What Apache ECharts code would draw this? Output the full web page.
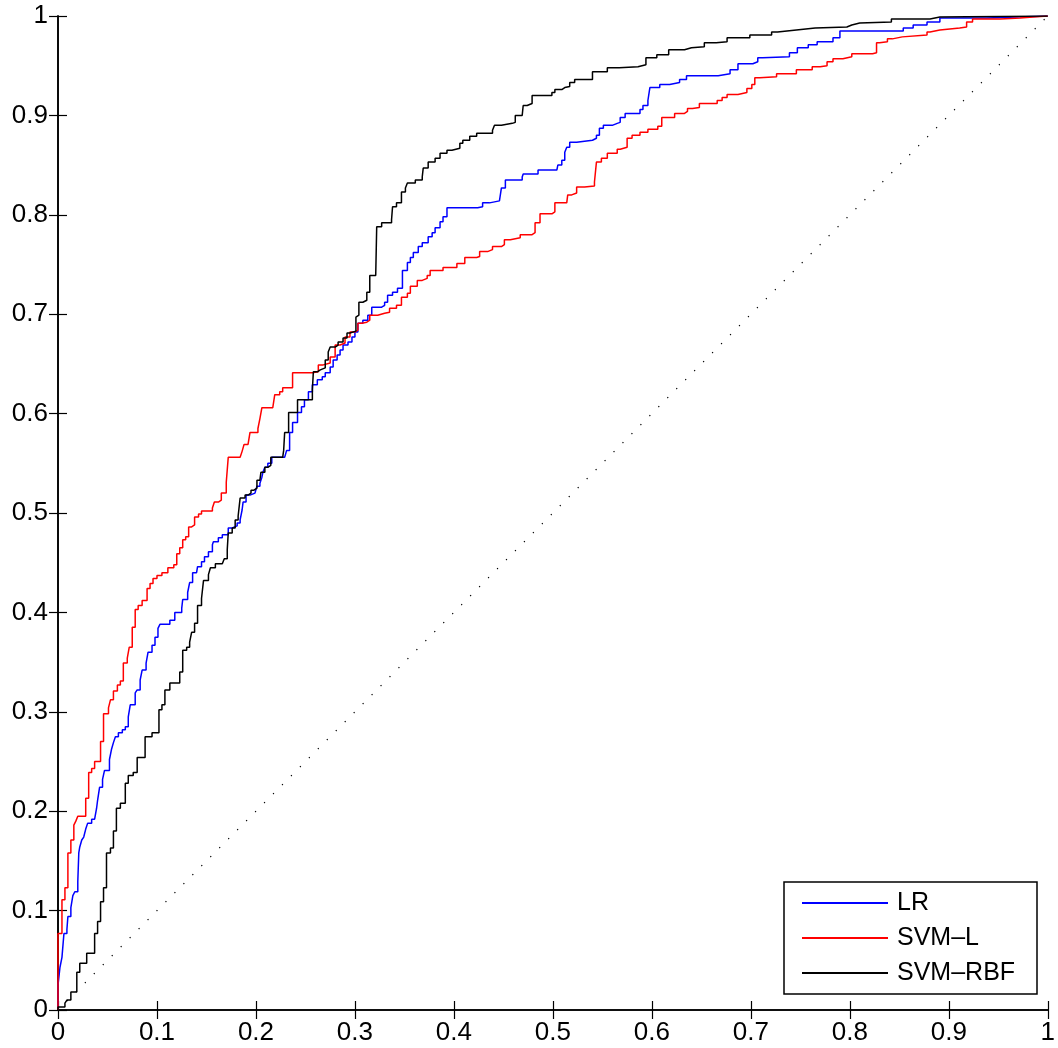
<!DOCTYPE html>
<html>
<head>
<meta charset="utf-8">
<script src="https://cdn.jsdelivr.net/npm/echarts@6/dist/echarts.min.js"></script>
<style>
html,body{margin:0;padding:0;background:#fff;}
#chart{width:1058px;height:1048px;}
</style>
</head>
<body>
<div id="chart"></div>
<script>
// ROC curves: [false positive rate, true positive rate]
const lrPoints = [
[0,0],[0,0.025],[0.002,0.043],[0.004,0.053],[0.006,0.077],[0.009,0.081],[0.010,0.094],[0.013,0.103],
[0.015,0.115],[0.017,0.119],[0.020,0.129],[0.021,0.158],[0.022,0.164],[0.024,0.171],[0.026,0.174],
[0.028,0.182],[0.030,0.188],[0.034,0.192],[0.037,0.194],[0.039,0.203],[0.040,0.211],[0.042,0.224],
[0.045,0.232],[0.047,0.241],[0.052,0.252],[0.054,0.262],[0.056,0.269],[0.058,0.275],[0.061,0.279],
[0.065,0.282],[0.068,0.285],[0.071,0.295],[0.073,0.307],[0.078,0.319],[0.080,0.322],[0.083,0.332],
[0.085,0.342],[0.089,0.349],[0.091,0.360],[0.095,0.367],[0.098,0.375],[0.101,0.384],[0.103,0.388],
[0.113,0.392],[0.118,0.400],[0.125,0.404],[0.126,0.413],[0.131,0.420],[0.133,0.430],[0.136,0.440],
[0.140,0.441],[0.141,0.446],[0.145,0.451],[0.148,0.456],[0.152,0.461],[0.156,0.468],[0.157,0.471],
[0.162,0.475],[0.166,0.478],[0.172,0.485],[0.176,0.487],[0.181,0.490],[0.184,0.493],[0.186,0.503],
[0.187,0.511],[0.190,0.518],[0.194,0.520],[0.199,0.521],[0.201,0.527],[0.204,0.530],[0.206,0.536],
[0.207,0.541],[0.209,0.546],[0.212,0.550],[0.216,0.556],[0.229,0.557],[0.231,0.563],[0.234,0.581],
[0.237,0.591],[0.242,0.601],[0.246,0.607],[0.249,0.614],[0.253,0.622],[0.257,0.629],[0.262,0.634],
[0.267,0.637],[0.270,0.641],[0.275,0.647],[0.278,0.654],[0.282,0.659],[0.285,0.664],[0.288,0.669],
[0.293,0.672],[0.297,0.677],[0.300,0.682],[0.303,0.691],[0.308,0.694],[0.313,0.699],[0.317,0.707],
[0.327,0.709],[0.330,0.712],[0.333,0.719],[0.338,0.722],[0.343,0.726],[0.348,0.744],[0.353,0.752],
[0.356,0.757],[0.359,0.762],[0.364,0.768],[0.368,0.772],[0.374,0.778],[0.378,0.782],[0.381,0.787],
[0.386,0.793],[0.389,0.798],[0.393,0.807],[0.424,0.808],[0.429,0.812],[0.436,0.814],[0.446,0.815],
[0.448,0.827],[0.452,0.835],[0.469,0.838],[0.470,0.841],[0.485,0.845],[0.504,0.846],[0.505,0.850],
[0.509,0.855],[0.512,0.863],[0.514,0.868],[0.517,0.873],[0.524,0.875],[0.540,0.877],[0.544,0.880],
[0.547,0.887],[0.551,0.890],[0.560,0.892],[0.565,0.893],[0.568,0.898],[0.573,0.902],[0.588,0.906],
[0.591,0.910],[0.596,0.915],[0.598,0.928],[0.608,0.931],[0.618,0.933],[0.628,0.936],[0.635,0.940],
[0.667,0.942],[0.679,0.946],[0.687,0.952],[0.702,0.954],[0.707,0.958],[0.712,0.959],[0.739,0.963],
[0.747,0.968],[0.758,0.971],[0.767,0.974],[0.783,0.978],[0.790,0.985],[0.854,0.988],[0.864,0.991],
[0.878,0.994],[0.891,0.998],[0.938,1],[1,1]
];
const svmLPoints = [
[0,0],[0,0.077],[0.004,0.111],[0.007,0.123],[0.010,0.158],[0.013,0.171],[0.016,0.186],[0.018,0.190],
[0.020,0.195],[0.028,0.213],[0.031,0.239],[0.034,0.243],[0.037,0.250],[0.043,0.270],[0.046,0.298],
[0.051,0.304],[0.053,0.312],[0.056,0.321],[0.060,0.327],[0.063,0.331],[0.066,0.349],[0.070,0.354],
[0.072,0.365],[0.075,0.385],[0.078,0.403],[0.081,0.407],[0.085,0.412],[0.090,0.424],[0.093,0.429],
[0.096,0.434],[0.100,0.437],[0.105,0.440],[0.111,0.445],[0.117,0.448],[0.120,0.459],[0.123,0.465],
[0.126,0.473],[0.129,0.476],[0.132,0.486],[0.135,0.488],[0.138,0.496],[0.142,0.499],[0.145,0.502],
[0.156,0.505],[0.158,0.511],[0.162,0.513],[0.165,0.520],[0.170,0.531],[0.172,0.556],[0.184,0.558],
[0.186,0.562],[0.188,0.569],[0.192,0.571],[0.194,0.581],[0.202,0.585],[0.204,0.595],[0.206,0.606],
[0.217,0.608],[0.219,0.619],[0.224,0.622],[0.227,0.626],[0.237,0.641],[0.257,0.642],[0.263,0.649],
[0.268,0.651],[0.275,0.657],[0.280,0.669],[0.285,0.671],[0.290,0.677],[0.295,0.682],[0.300,0.684],
[0.303,0.691],[0.307,0.692],[0.312,0.694],[0.315,0.699],[0.323,0.701],[0.330,0.702],[0.335,0.706],
[0.342,0.709],[0.347,0.717],[0.353,0.721],[0.356,0.728],[0.363,0.734],[0.368,0.736],[0.373,0.739],
[0.376,0.744],[0.389,0.747],[0.403,0.751],[0.411,0.757],[0.423,0.758],[0.426,0.763],[0.434,0.765],
[0.439,0.768],[0.448,0.770],[0.451,0.775],[0.457,0.777],[0.467,0.780],[0.479,0.782],[0.482,0.792],
[0.487,0.801],[0.499,0.803],[0.502,0.812],[0.514,0.813],[0.515,0.820],[0.519,0.822],[0.524,0.828],
[0.532,0.829],[0.542,0.833],[0.544,0.853],[0.549,0.857],[0.555,0.862],[0.565,0.866],[0.568,0.868],
[0.575,0.877],[0.580,0.880],[0.588,0.883],[0.596,0.886],[0.606,0.889],[0.610,0.898],[0.623,0.902],
[0.633,0.904],[0.636,0.907],[0.641,0.908],[0.648,0.912],[0.666,0.915],[0.671,0.918],[0.676,0.921],
[0.687,0.923],[0.696,0.927],[0.701,0.931],[0.704,0.938],[0.709,0.939],[0.726,0.942],[0.746,0.946],
[0.762,0.949],[0.770,0.950],[0.777,0.954],[0.783,0.957],[0.793,0.959],[0.802,0.962],[0.823,0.963],
[0.827,0.973],[0.830,0.974],[0.838,0.977],[0.843,0.979],[0.853,0.981],[0.878,0.984],[0.881,0.986],
[0.891,0.988],[0.911,0.989],[0.918,0.994],[0.924,0.997],[0.952,0.998],[0.972,0.999],[0.985,1],[1,1]
];
const svmRbfPoints = [
[0,0],[0,0.003],[0.007,0.007],[0.009,0.010],[0.013,0.018],[0.019,0.038],[0.022,0.047],[0.029,0.057],
[0.037,0.077],[0.040,0.089],[0.043,0.109],[0.046,0.123],[0.049,0.158],[0.053,0.163],[0.056,0.180],
[0.059,0.203],[0.063,0.208],[0.068,0.228],[0.071,0.236],[0.076,0.239],[0.080,0.254],[0.088,0.275],
[0.095,0.279],[0.102,0.302],[0.105,0.307],[0.108,0.322],[0.113,0.329],[0.123,0.340],[0.126,0.362],
[0.130,0.365],[0.133,0.370],[0.135,0.380],[0.138,0.389],[0.141,0.407],[0.145,0.414],[0.147,0.432],
[0.152,0.438],[0.154,0.445],[0.159,0.449],[0.166,0.451],[0.168,0.454],[0.171,0.463],[0.172,0.480],
[0.176,0.485],[0.179,0.493],[0.182,0.497],[0.184,0.515],[0.189,0.518],[0.192,0.520],[0.195,0.523],
[0.198,0.525],[0.201,0.533],[0.204,0.535],[0.205,0.541],[0.209,0.546],[0.212,0.548],[0.215,0.556],
[0.227,0.557],[0.228,0.563],[0.229,0.581],[0.233,0.601],[0.242,0.614],[0.257,0.624],[0.258,0.642],
[0.262,0.644],[0.265,0.646],[0.270,0.654],[0.273,0.662],[0.275,0.667],[0.280,0.669],[0.283,0.672],
[0.288,0.676],[0.292,0.681],[0.295,0.683],[0.301,0.697],[0.303,0.699],[0.304,0.712],[0.308,0.714],
[0.312,0.722],[0.315,0.739],[0.321,0.741],[0.322,0.788],[0.327,0.792],[0.337,0.795],[0.338,0.808],
[0.342,0.812],[0.347,0.823],[0.351,0.827],[0.353,0.832],[0.361,0.835],[0.368,0.838],[0.369,0.847],
[0.374,0.853],[0.381,0.857],[0.386,0.862],[0.393,0.865],[0.398,0.867],[0.406,0.872],[0.409,0.875],
[0.416,0.879],[0.423,0.882],[0.439,0.885],[0.441,0.890],[0.448,0.892],[0.459,0.893],[0.462,0.900],
[0.469,0.902],[0.470,0.910],[0.474,0.912],[0.479,0.920],[0.499,0.923],[0.502,0.926],[0.509,0.928],
[0.512,0.929],[0.517,0.933],[0.522,0.936],[0.540,0.944],[0.555,0.948],[0.567,0.949],[0.586,0.951],
[0.594,0.958],[0.605,0.961],[0.617,0.966],[0.633,0.968],[0.640,0.969],[0.653,0.973],[0.665,0.974],
[0.676,0.978],[0.699,0.981],[0.721,0.984],[0.727,0.986],[0.746,0.988],[0.765,0.989],[0.797,0.991],
[0.802,0.993],[0.810,0.994],[0.842,0.997],[0.881,0.999],[0.891,1],[1,1]
];
const chancePoints = [[0,0],[1,1]];
const seriesNames = ['LR', 'SVM\u2013L', 'SVM\u2013RBF'];
const seriesColors = ['#0000ff', '#ff0000', '#000000'];

const chart = echarts.init(document.getElementById('chart'), null, {renderer: 'canvas'});
const FONT = 'Liberation Sans';
const labelStyle = {color: '#000', fontFamily: FONT, fontSize: 26};
function axisCommon(showLabel, margin) {
  return {
    type: 'value', min: 0, max: 1, interval: 0.1,
    axisLine: {show: true, lineStyle: {color: '#000', width: 1.6}},
    axisTick: {show: true, inside: true, length: 9, lineStyle: {color: '#000', width: 1.2}},
    axisLabel: Object.assign({show: showLabel, margin: margin}, labelStyle),
    splitLine: {show: false}
  };
}
const curves = [lrPoints, svmLPoints, svmRbfPoints];
const series = [{
  type: 'line', name: 'chance', data: chancePoints, showSymbol: false, silent: true,
  lineStyle: {color: '#000', width: 1.2, type: [1.2, 11.5]}, z: 1
}];
curves.forEach((pts, i) => {
  series.push({
    type: 'line', name: seriesNames[i], data: pts, step: 'end', showSymbol: false,
    lineStyle: {color: seriesColors[i], width: 1.5}, itemStyle: {color: seriesColors[i]},
    z: 2 + i
  });
});
chart.setOption({
  animation: false,
  backgroundColor: '#fff',
  grid: {left: 58, right: 10, top: 16, bottom: 38, containLabel: false},
  xAxis: [
    Object.assign(axisCommon(true, 10), {position: 'bottom'}),
    Object.assign(axisCommon(false, 8), {position: 'top'})
  ],
  yAxis: [
    Object.assign(axisCommon(true, 10), {position: 'left'}),
    Object.assign(axisCommon(false, 8), {position: 'right'})
  ],
  legend: {
    data: seriesNames,
    orient: 'vertical',
    left: 784, top: 882,
    icon: 'rect', itemWidth: 86, itemHeight: 2, itemGap: 9,
    padding: [8, 9, 8, 18],
    backgroundColor: '#fff', borderColor: '#000', borderWidth: 1.5, borderRadius: 0,
    textStyle: {color: '#000', fontFamily: FONT, fontSize: 25, lineHeight: 26, padding: [0, 0, 0, 4], width: 131}
  },
  series: series
});
</script>
</body>
</html>
